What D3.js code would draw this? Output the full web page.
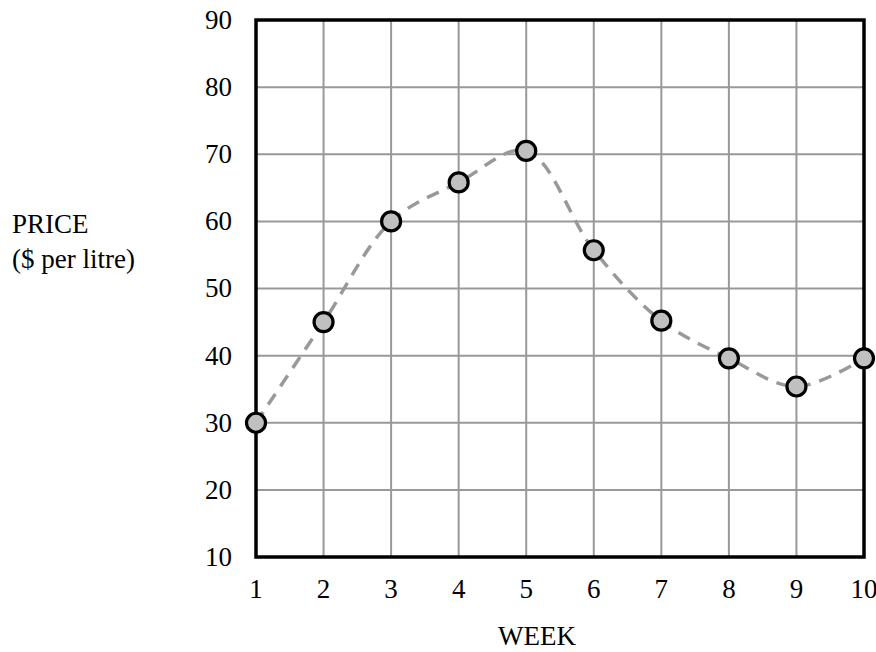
<!DOCTYPE html>
<html>
<head>
<meta charset="utf-8">
<script src="https://cdn.jsdelivr.net/npm/d3@7"></script>
<style>
  body { margin: 0; background: #fff; }
  text { font-family: "Liberation Serif", "Times New Roman", serif; fill: #000; }
</style>
</head>
<body>
<div id="chart"></div>
<script>
const weeks = [1, 2, 3, 4, 5, 6, 7, 8, 9, 10];
const prices = [30, 45, 60, 65.8, 70.5, 55.7, 45.2, 39.6, 35.4, 39.6];
const yTicks = [10, 20, 30, 40, 50, 60, 70, 80, 90];
const yTitle = ["PRICE", "($ per litre)"];
const xTitle = "WEEK";

const W = 876, H = 652;
const margin = { top: 20, right: 12, bottom: 95, left: 256 };
const width = W - margin.left - margin.right,
      height = H - margin.top - margin.bottom;

const svg = d3.select("#chart").append("svg")
    .attr("width", W)
    .attr("height", H);

const g = svg.append("g")
    .attr("transform", "translate(" + margin.left + "," + margin.top + ")");

const x = d3.scaleLinear().domain([1, 10]).range([0, width]),
      y = d3.scaleLinear().domain([10, 90]).range([height, 0]);

// grid lines
g.append("g").selectAll("line")
    .data(weeks)
    .enter().append("line")
    .attr("x1", d => x(d)).attr("x2", d => x(d))
    .attr("y1", 0).attr("y2", height)
    .style("stroke", "#999").style("stroke-width", 2);

g.append("g").selectAll("line")
    .data(yTicks)
    .enter().append("line")
    .attr("y1", d => y(d)).attr("y2", d => y(d))
    .attr("x1", 0).attr("x2", width)
    .style("stroke", "#999").style("stroke-width", 2);

// frame
g.append("rect")
    .attr("width", width).attr("height", height)
    .style("fill", "none").style("stroke", "#000").style("stroke-width", 3.5);

// tick labels
g.append("g").selectAll("text")
    .data(yTicks)
    .enter().append("text")
    .attr("x", -24)
    .attr("y", d => y(d))
    .attr("dy", "0.33em")
    .attr("text-anchor", "end")
    .style("font-size", "27px")
    .text(d => d);

g.append("g").selectAll("text")
    .data(weeks)
    .enter().append("text")
    .attr("x", d => x(d))
    .attr("y", height + 41)
    .attr("text-anchor", "middle")
    .style("font-size", "27px")
    .text(d => d);

// axis titles
svg.append("text")
    .attr("x", 12).attr("y", 233)
    .style("font-size", "27px")
    .text(yTitle[0]);
svg.append("text")
    .attr("x", 12).attr("y", 268)
    .style("font-size", "27px")
    .text(yTitle[1]);

svg.append("text")
    .attr("x", 537).attr("y", 645)
    .attr("text-anchor", "middle")
    .style("font-size", "27px")
    .text(xTitle);

// dashed curve
const line = d3.line()
    .curve(d3.curveCatmullRom.alpha(0.5))
    .x((d, i) => x(weeks[i]))
    .y(d => y(d));

g.append("path")
    .attr("d", line(prices))
    .style("fill", "none")
    .style("stroke", "#999")
    .style("stroke-width", 3.5)
    .style("stroke-dasharray", "13,9");

// points
g.append("g").selectAll("circle")
    .data(prices)
    .enter().append("circle")
    .attr("cx", (d, i) => x(weeks[i]))
    .attr("cy", d => y(d))
    .attr("r", 9.5)
    .style("fill", "#c0c0c0")
    .style("stroke", "#000")
    .style("stroke-width", 3.2);
</script>
</body>
</html>
